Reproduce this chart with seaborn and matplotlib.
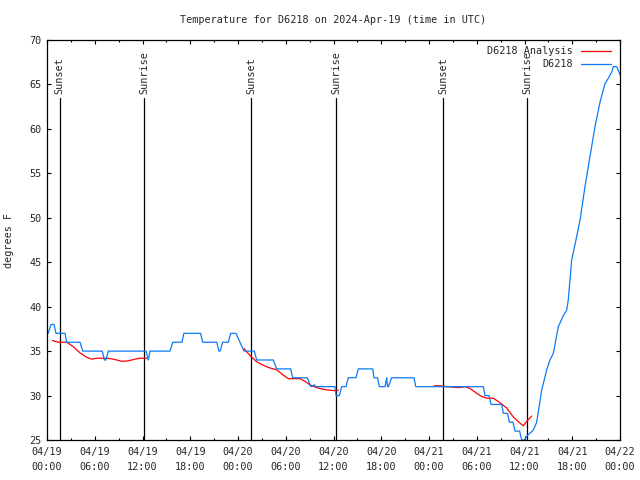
import pandas as pd
import matplotlib
matplotlib.use("Agg")
import matplotlib.pyplot as plt
import matplotlib.dates as mdates
import matplotlib.transforms as mtransforms
from matplotlib.lines import Line2D
import seaborn as sns

# ── data (hours after 2024-04-19 00:00 UTC) ──────────────────────────────────
START = pd.Timestamp("2024-04-19 00:00")

obs_hours = [0.16, 0.5, 0.88, 1.13, 2.26, 2.48, 4.15, 4.49, 6.95, 7.2, 7.41, 7.7,
             12.44, 12.73, 12.94, 15.46, 15.8, 16.96, 17.2, 19.3, 19.56, 21.32,
             21.61, 21.74, 22.08, 22.78, 23.08, 23.75, 24.25, 24.75, 26.05, 26.35,
             28.44, 28.86, 30.62, 30.87, 32.71, 33.14, 33.6, 33.8, 34.2, 36.19,
             36.32, 36.73, 37.03, 37.57, 37.86, 38.83, 39.12, 40.93, 41.09, 41.53,
             41.76, 42.47, 42.69, 42.79, 42.89, 43.31, 46.12, 46.33, 54.83, 55.04,
             55.54, 55.79, 57.14, 57.34, 57.87, 58.1, 58.56, 58.81, 59.38, 59.65,
             60.0, 60.35, 61.1, 61.53, 62.16, 62.79, 63.2, 63.62, 64.25, 64.88,
             65.3, 65.5, 65.93, 66.56, 66.98, 67.6, 68.23, 68.86, 69.49, 70.12,
             70.53, 70.96, 71.16, 71.59, 72.0]
obs_temp = [37, 38, 38, 37, 37, 36, 36, 35, 35, 34, 34, 35,
            35, 34, 35, 35, 36, 36, 37, 37, 36, 36,
            35, 35, 36, 36, 37, 37, 36, 35, 35, 34,
            34, 33, 33, 32, 32, 31, 31.2, 31, 31, 31,
            30, 30, 31, 31, 32, 32, 33, 33, 32, 32,
            31, 31, 32, 31, 31, 32, 32, 31, 31, 30,
            30, 29, 29, 28, 28, 27, 27, 26, 26, 25,
            25, 25.5, 26.1, 27, 30.6, 32.9, 34, 34.75, 37.75, 39,
            39.6, 40.75, 45.25, 47.9, 49.75, 53.5, 56.9, 60.25, 63, 65.1,
            65.7, 66.4, 67, 67, 66.1]

ana_hours_1 = [0.67, 1.42, 2.48, 3.3, 4.15, 4.99, 5.62, 6.25, 7.5, 8.33, 9.39,
               10.22, 11.06, 11.69, 12.53]
ana_temp_1 = [36.2, 36.0, 36.0, 35.5, 34.8, 34.3, 34.1, 34.2, 34.2, 34.1, 33.85,
              33.9, 34.1, 34.2, 34.2]
ana_hours_2 = [24.75, 25.51, 26.35, 27.18, 28.02, 28.86, 29.69, 30.32, 31.79,
               32.42, 33.05, 33.89, 34.72, 35.56, 36.19, 36.6]
ana_temp_2 = [35.3, 34.5, 33.8, 33.4, 33.1, 32.9, 32.3, 31.9, 31.9,
              31.6, 31.2, 30.9, 30.7, 30.6, 30.55, 30.6]
ana_hours_3 = [48.63, 49.38, 50.23, 51.06, 51.68, 52.53, 53.15, 53.99, 54.62,
               55.25, 56.08, 56.92, 57.76, 58.59, 59.22, 59.85, 60.28, 60.91]
ana_temp_3 = [31.1, 31.1, 31.0, 30.95, 30.9, 31.0, 30.8, 30.25, 29.9,
              29.7, 29.7, 29.2, 28.6, 27.6, 27.06, 26.6, 27.1, 27.7]

sun_hours = [1.58, 12.25, 25.65, 36.35, 49.75, 60.35]
sun_labels = ["Sunset", "Sunrise", "Sunset", "Sunrise", "Sunset", "Sunrise"]

y_ticks = [25, 30, 35, 40, 45, 50, 55, 60, 65, 70]

STATION = "D6218"
OBS_COLOR = "#0a7cf5"
ANA_COLOR = "#ff0000"


def to_time(hours):
    return START + pd.to_timedelta(hours, unit="h")


obs = pd.DataFrame({"time": to_time(obs_hours), "temp": obs_temp})
ana = pd.concat([
    pd.DataFrame({"time": to_time(h), "temp": t, "seg": i})
    for i, (h, t) in enumerate([(ana_hours_1, ana_temp_1),
                                (ana_hours_2, ana_temp_2),
                                (ana_hours_3, ana_temp_3)])
], ignore_index=True)

# ── plot ─────────────────────────────────────────────────────────────────────
sns.set_style("ticks")
plt.rcParams["font.family"] = ["DejaVu Sans Mono"]
plt.rcParams["font.size"] = 7

fig = plt.figure(figsize=(6.4, 4.8), dpi=100)
ax = fig.add_axes([47 / 640, 40 / 480, 573 / 640, 400 / 480])

# sunrise / sunset markers
trans = mtransforms.blended_transform_factory(ax.transData, ax.transAxes)
for h, lab in zip(sun_hours, sun_labels):
    t = to_time(h)
    ax.axvline(t, ymin=0, ymax=0.855, color="black", lw=0.9)
    ax.text(t, 0.865, lab, rotation=90, transform=trans,
            ha="center", va="bottom", fontsize=7.3)

sns.lineplot(data=ana, x="time", y="temp", units="seg", estimator=None,
             sort=False, color=ANA_COLOR, lw=0.9, ax=ax)
sns.lineplot(data=obs, x="time", y="temp", estimator=None, sort=False,
             color=OBS_COLOR, lw=0.9, ax=ax)

ax.set_xlim(START, to_time(72))
ax.set_ylim(25, 70)
ax.set_yticks(y_ticks)

ax.xaxis.set_major_locator(mdates.HourLocator(byhour=[0, 6, 12, 18]))
ax.xaxis.set_minor_locator(mdates.HourLocator(byhour=[3, 9, 15, 21]))
ax.xaxis.set_major_formatter(mdates.DateFormatter("%m/%d\n%H:%M"))
for lab in ax.get_xticklabels():
    lab.set_linespacing(1.6)

ax.tick_params(which="both", direction="in", top=True, right=True,
               width=0.8, color="black", labelsize=7.3)
ax.tick_params(which="major", length=3.2)
ax.tick_params(which="minor", length=1.6)
ax.tick_params(axis="x", pad=5)
ax.tick_params(axis="y", pad=4)
for sp in ax.spines.values():
    sp.set_color("black")
    sp.set_linewidth(0.9)

ax.set_xlabel("")
ax.set_ylabel("degrees F", fontsize=7.3, labelpad=11)
ax.set_title(f"Temperature for {STATION} on 2024-Apr-19 (time in UTC)",
             fontsize=7.3, pad=12)

handles = [Line2D([], [], color=ANA_COLOR, lw=0.9),
           Line2D([], [], color=OBS_COLOR, lw=0.9)]
ax.legend(handles, [f"{STATION} Analysis", STATION], loc="upper right",
          bbox_to_anchor=(0.995, 1.0), frameon=False, markerfirst=False,
          handlelength=3.0, handletextpad=0.8, labelspacing=0.3,
          fontsize=7.3, borderaxespad=0.2)

fig.savefig("out.png", dpi=100)
